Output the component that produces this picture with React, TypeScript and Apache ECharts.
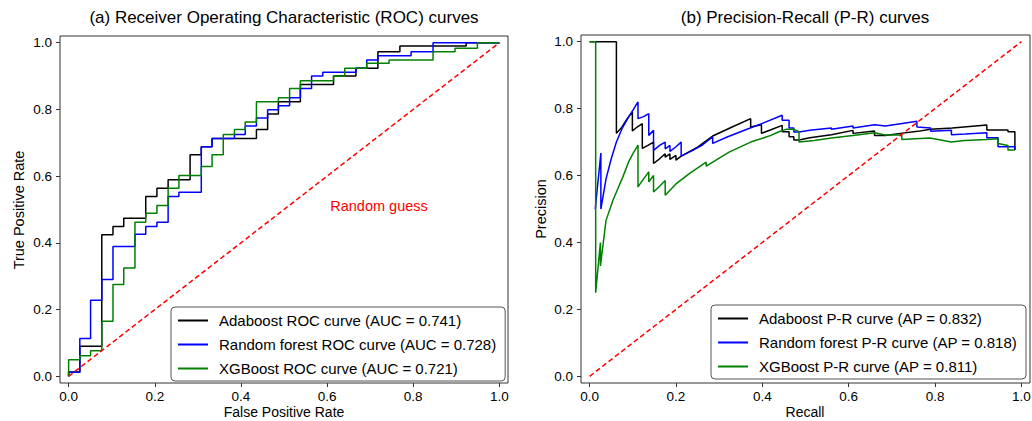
import React, { useEffect, useRef } from "react";
import * as echarts from "echarts";

const FONT = "'Liberation Sans', Arial, Helvetica, sans-serif";

const tickValues = [0, 0.2, 0.4, 0.6, 0.8, 1.0];
const diagonal = [[0, 0], [1, 1]];

const rocNames = [
  "Adaboost ROC curve (AUC = 0.741)",
  "Random forest ROC curve (AUC = 0.728)",
  "XGBoost ROC curve (AUC = 0.721)",
];
const prNames = [
  "Adaboost P-R curve (AP = 0.832)",
  "Random forest P-R curve (AP = 0.818)",
  "XGBoost P-R curve (AP = 0.811)",
];

const rocAdaboost = [
  [0, 0], [0, 0.013], [0.026, 0.013], [0.026, 0.09], [0.077, 0.09], [0.077, 0.424],
  [0.103, 0.424], [0.103, 0.449], [0.128, 0.449], [0.128, 0.474], [0.179, 0.474],
  [0.179, 0.539], [0.205, 0.539], [0.205, 0.564], [0.231, 0.564], [0.231, 0.589],
  [0.282, 0.589], [0.282, 0.664], [0.308, 0.664], [0.308, 0.688], [0.333, 0.688],
  [0.333, 0.713], [0.436, 0.713], [0.436, 0.74], [0.462, 0.74], [0.462, 0.786],
  [0.487, 0.786], [0.487, 0.823], [0.538, 0.823], [0.538, 0.875], [0.615, 0.875],
  [0.615, 0.9], [0.667, 0.9], [0.667, 0.923], [0.718, 0.923], [0.718, 0.973],
  [0.769, 0.973], [0.769, 0.99], [0.923, 0.99], [0.923, 1], [1, 1],
];
const rocRandomForest = [
  [0, 0], [0, 0.012], [0.026, 0.012], [0.026, 0.113], [0.051, 0.113], [0.051, 0.228],
  [0.077, 0.228], [0.077, 0.29], [0.103, 0.29], [0.103, 0.389], [0.154, 0.389],
  [0.154, 0.426], [0.179, 0.426], [0.179, 0.449], [0.205, 0.449], [0.205, 0.462],
  [0.231, 0.462], [0.231, 0.539], [0.256, 0.539], [0.256, 0.552], [0.308, 0.552],
  [0.308, 0.688], [0.333, 0.688], [0.333, 0.713], [0.385, 0.713], [0.385, 0.725],
  [0.41, 0.725], [0.41, 0.75], [0.436, 0.75], [0.436, 0.774], [0.462, 0.774],
  [0.462, 0.799], [0.487, 0.799], [0.487, 0.811], [0.513, 0.811], [0.513, 0.835],
  [0.538, 0.835], [0.538, 0.863], [0.564, 0.863], [0.564, 0.9], [0.59, 0.9],
  [0.59, 0.911], [0.667, 0.911], [0.667, 0.923], [0.692, 0.923], [0.692, 0.948],
  [0.718, 0.948], [0.718, 0.961], [0.795, 0.961], [0.795, 0.973], [0.846, 0.973],
  [0.846, 1], [1, 1],
];
const rocXGBoost = [
  [0, 0], [0, 0.05], [0.026, 0.05], [0.026, 0.062], [0.051, 0.062], [0.051, 0.077],
  [0.077, 0.077], [0.077, 0.165], [0.103, 0.165], [0.103, 0.275], [0.128, 0.275],
  [0.128, 0.325], [0.154, 0.325], [0.154, 0.462], [0.179, 0.462], [0.179, 0.489],
  [0.205, 0.489], [0.205, 0.512], [0.231, 0.512], [0.231, 0.564], [0.256, 0.564],
  [0.256, 0.602], [0.308, 0.602], [0.308, 0.629], [0.333, 0.629], [0.333, 0.664],
  [0.359, 0.664], [0.359, 0.725], [0.385, 0.725], [0.385, 0.74], [0.41, 0.74],
  [0.41, 0.762], [0.436, 0.762], [0.436, 0.823], [0.487, 0.823], [0.487, 0.835],
  [0.513, 0.835], [0.513, 0.863], [0.538, 0.863], [0.538, 0.886], [0.615, 0.886],
  [0.615, 0.9], [0.641, 0.9], [0.641, 0.923], [0.692, 0.923], [0.692, 0.938],
  [0.744, 0.938], [0.744, 0.948], [0.846, 0.948], [0.846, 0.973], [0.897, 0.973],
  [0.897, 0.983], [0.949, 0.983], [0.949, 1], [1, 1],
];

const prAdaboost = [
  [0, 1], [0.062, 1], [0.062, 0.726], [0.075, 0.745], [0.087, 0.77], [0.099, 0.79],
  [0.099, 0.733], [0.11, 0.745], [0.122, 0.755], [0.122, 0.681], [0.135, 0.69],
  [0.148, 0.7], [0.148, 0.636], [0.162, 0.65], [0.175, 0.665], [0.175, 0.655],
  [0.186, 0.665], [0.186, 0.648], [0.2, 0.66], [0.2, 0.646], [0.212, 0.658],
  [0.25, 0.685], [0.285, 0.718], [0.33, 0.745], [0.373, 0.77], [0.373, 0.745],
  [0.398, 0.752], [0.398, 0.726], [0.42, 0.737], [0.446, 0.75], [0.446, 0.731],
  [0.462, 0.731], [0.462, 0.716], [0.473, 0.716], [0.473, 0.706], [0.485, 0.706],
  [0.51, 0.713], [0.56, 0.722], [0.61, 0.735], [0.61, 0.726], [0.66, 0.733],
  [0.66, 0.72], [0.685, 0.72], [0.72, 0.726], [0.76, 0.732], [0.79, 0.738],
  [0.84, 0.742], [0.92, 0.751], [0.92, 0.736], [0.969, 0.736], [0.969, 0.731],
  [0.985, 0.731], [0.985, 0.676],
];
const prRandomForest = [
  [0.013, 0.5], [0.026, 0.667], [0.026, 0.5], [0.038, 0.59], [0.05, 0.65],
  [0.062, 0.7], [0.075, 0.74], [0.088, 0.77], [0.1, 0.795], [0.112, 0.82],
  [0.112, 0.77], [0.125, 0.776], [0.137, 0.785], [0.137, 0.72], [0.148, 0.735],
  [0.148, 0.675], [0.162, 0.69], [0.175, 0.7], [0.175, 0.68], [0.186, 0.69],
  [0.186, 0.672], [0.2, 0.686], [0.212, 0.7], [0.212, 0.658], [0.24, 0.676],
  [0.262, 0.692], [0.285, 0.716], [0.285, 0.696], [0.32, 0.716], [0.36, 0.736],
  [0.4, 0.756], [0.446, 0.78], [0.446, 0.765], [0.462, 0.765], [0.462, 0.742],
  [0.473, 0.742], [0.473, 0.73], [0.485, 0.73], [0.51, 0.735], [0.56, 0.742],
  [0.56, 0.738], [0.61, 0.748], [0.61, 0.742], [0.66, 0.752], [0.685, 0.748],
  [0.72, 0.755], [0.758, 0.762], [0.758, 0.745], [0.79, 0.742], [0.79, 0.732],
  [0.838, 0.735], [0.838, 0.722], [0.87, 0.724], [0.92, 0.728], [0.92, 0.713],
  [0.946, 0.713], [0.946, 0.686], [0.985, 0.686], [0.985, 0.676],
];
const prXGBoost = [
  [0, 1], [0.014, 1], [0.014, 0.25], [0.025, 0.4], [0.025, 0.33], [0.038, 0.466],
  [0.054, 0.526], [0.065, 0.56], [0.077, 0.596], [0.09, 0.64], [0.1, 0.665],
  [0.112, 0.691], [0.112, 0.566], [0.125, 0.59], [0.137, 0.611], [0.137, 0.581],
  [0.148, 0.6], [0.148, 0.551], [0.162, 0.568], [0.175, 0.585], [0.175, 0.541],
  [0.2, 0.575], [0.23, 0.605], [0.27, 0.64], [0.27, 0.628], [0.323, 0.67],
  [0.373, 0.7], [0.42, 0.72], [0.4385, 0.731], [0.455, 0.738], [0.473, 0.738],
  [0.485, 0.731], [0.485, 0.7], [0.52, 0.705], [0.56, 0.712], [0.61, 0.72],
  [0.66, 0.728], [0.685, 0.721], [0.723, 0.721], [0.723, 0.708], [0.788, 0.712],
  [0.838, 0.7], [0.869, 0.705], [0.919, 0.708], [0.946, 0.71], [0.946, 0.696],
  [0.969, 0.69], [0.969, 0.676], [0.985, 0.676],
];

const colors = ["#000000", "#0000ff", "#008000"];

function makeAxis(idx: number, isY: boolean) {
  return {
    type: "value",
    gridIndex: idx,
    min: -0.02,
    max: 1.02,
    splitLine: { show: false },
    axisLine: { show: false, onZero: false },
    axisTick: {
      show: true,
      inside: false,
      length: 4,
      customValues: tickValues,
      lineStyle: { color: "#333", width: 1 },
    },
    axisLabel: {
      customValues: tickValues,
      formatter: (v: number) => v.toFixed(1),
      color: "#000",
      fontSize: 13.5,
      fontFamily: FONT,
      margin: isY ? 8 : 6,
    },
  };
}

function lineSeries(name: string, data: number[][], color: string, gi: number, z: number) {
  return {
    type: "line",
    name,
    data,
    xAxisIndex: gi,
    yAxisIndex: gi,
    symbol: "none",
    showSymbol: false,
    silent: true,
    z,
    lineStyle: { color, width: 1.5 },
    itemStyle: { color },
  };
}

function diagSeries(gi: number) {
  return {
    type: "line",
    name: "diag" + gi,
    data: diagonal,
    xAxisIndex: gi,
    yAxisIndex: gi,
    symbol: "none",
    silent: true,
    z: 10,
    lineStyle: { color: "#ff0000", width: 1.5, type: [5, 3] },
    itemStyle: { color: "#ff0000" },
  };
}

function legendFor(names: string[], left: number, top: number) {
  return {
    orient: "vertical",
    left,
    top,
    padding: [6, 9, 5, 7],
    itemGap: 9,
    itemWidth: 30,
    itemHeight: 2,
    icon: "rect",
    selectedMode: false,
    borderColor: "#555",
    borderWidth: 1,
    borderRadius: 4,
    backgroundColor: "#fff",
    textStyle: { fontSize: 15, lineHeight: 14, color: "#000", fontFamily: FONT, padding: [0, 0, 0, 6] },
    data: names,
  };
}

function label(text: string, x: number, y: number, size: number, color: string, rotate = false) {
  return {
    type: "text",
    x,
    y,
    rotation: rotate ? Math.PI / 2 : 0,
    style: { text, align: "center", verticalAlign: "middle", fontSize: size, fill: color, fontFamily: FONT },
  };
}

export default function App() {
  const ref = useRef<HTMLDivElement>(null);
  useEffect(() => {
    if (!ref.current) return;
    const chart = echarts.init(ref.current, undefined, { renderer: "svg" });
    const option: any = {
      animation: false,
      textStyle: { fontFamily: FONT },
      grid: [
        { left: 60, top: 36, width: 448, height: 347, show: true, borderColor: "#333", borderWidth: 1, outerBoundsMode: "none", containLabel: false },
        { left: 581, top: 35, width: 449, height: 348, show: true, borderColor: "#333", borderWidth: 1, outerBoundsMode: "none", containLabel: false },
      ],
      xAxis: [makeAxis(0, false), makeAxis(1, false)],
      yAxis: [makeAxis(0, true), makeAxis(1, true)],
      legend: [legendFor(rocNames, 171, 307), legendFor(prNames, 711, 305)],
      series: [
        lineSeries(rocNames[0], rocAdaboost, colors[0], 0, 2),
        lineSeries(rocNames[1], rocRandomForest, colors[1], 0, 3),
        lineSeries(rocNames[2], rocXGBoost, colors[2], 0, 4),
        diagSeries(0),
        lineSeries(prNames[0], prAdaboost, colors[0], 1, 2),
        lineSeries(prNames[1], prRandomForest, colors[1], 1, 3),
        lineSeries(prNames[2], prXGBoost, colors[2], 1, 4),
        diagSeries(1),
      ],
      graphic: [
        label("(a) Receiver Operating Characteristic (ROC) curves", 284, 17, 17, "#000"),
        label("(b) Precision-Recall (P-R) curves", 805, 17, 17, "#000"),
        label("False Positive Rate", 284, 412, 14, "#000"),
        label("Recall", 805, 412, 14, "#000"),
        label("True Positive Rate", 19, 210, 14.5, "#000", true),
        label("Precision", 541, 209, 14.5, "#000", true),
        label("Random guess", 379, 206, 14.5, "#ff0000"),
      ],
    };
    chart.setOption(option);
    return () => chart.dispose();
  }, []);
  return (
    <div
      ref={ref}
      style={{ position: "absolute", left: 0, top: 0, width: 1032, height: 421, background: "#fff" }}
    />
  );
}
